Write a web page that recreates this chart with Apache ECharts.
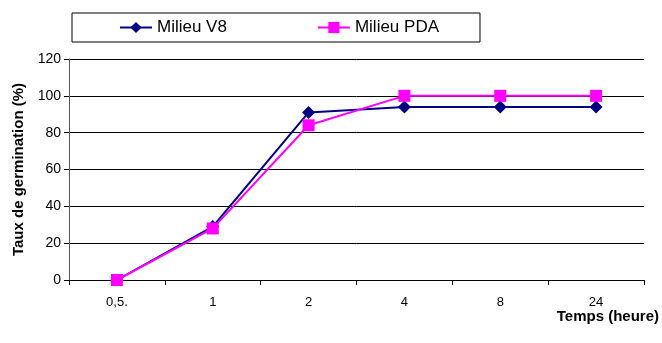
<!DOCTYPE html>
<html>
<head>
<meta charset="utf-8">
<script src="https://cdn.jsdelivr.net/npm/echarts@6/dist/echarts.min.js"></script>
<style>
  html, body { margin: 0; padding: 0; background: #fff; }
  #chart { width: 662px; height: 343px; }
</style>
</head>
<body>
<div id="chart"></div>
<script>
// Germination time points and rates for the two culture media
const temps = ['0,5.', '1', '2', '4', '8', '24'];
const milieuV8 = [0, 29, 91, 94, 94, 94];
const milieuPDA = [0, 28, 84, 100, 100, 100];

const chart = echarts.init(document.getElementById('chart'));
const font = 'Liberation Sans, Arial, sans-serif';

chart.setOption({
  animation: false,
  backgroundColor: '#ffffff',
  textStyle: { fontFamily: font },
  legend: {
    left: 72,
    top: 13,
    padding: [6, 41, 6, 47],
    borderColor: '#000',
    borderWidth: 1,
    itemWidth: 32,
    itemHeight: 14,
    itemGap: 90,
    textStyle: { fontSize: 17, color: '#000', fontFamily: font },
    data: ['Milieu V8', 'Milieu PDA']
  },
  grid: { left: 69, right: 17, top: 59, bottom: 63, containLabel: false },
  xAxis: {
    type: 'category',
    data: temps,
    boundaryGap: true,
    name: 'Temps (heure)',
    nameLocation: 'end',
    nameGap: 0,
    nameTextStyle: {
      fontSize: 15, fontWeight: 'bold', color: '#000',
      align: 'right', verticalAlign: 'top', padding: [29, -15, 0, 0]
    },
    axisLine: { lineStyle: { color: '#000', width: 1 } },
    axisTick: { show: true, length: 5, lineStyle: { color: '#000' } },
    axisLabel: { fontSize: 13, color: '#000', margin: 16 }
  },
  yAxis: {
    type: 'value',
    min: 0, max: 120, interval: 20,
    name: 'Taux de germination (%)',
    nameLocation: 'middle',
    nameGap: 43,
    nameTextStyle: { fontSize: 15, fontWeight: 'bold', color: '#000' },
    axisLine: { show: true, lineStyle: { color: '#555', width: 1 } },
    axisTick: { show: true, length: 5, lineStyle: { color: '#000' } },
    axisLabel: { fontSize: 14, color: '#000', margin: 8 },
    splitLine: { lineStyle: { color: '#000', width: 1 } }
  },
  series: [
    {
      name: 'Milieu V8',
      type: 'line',
      data: milieuV8,
      symbol: 'diamond',
      symbolSize: 13,
      color: '#000080',
      lineStyle: { width: 2, color: '#000080' },
      itemStyle: { color: '#000080' },
      z: 3
    },
    {
      name: 'Milieu PDA',
      type: 'line',
      data: milieuPDA,
      symbol: 'rect',
      symbolSize: 12,
      color: '#ff00ff',
      lineStyle: { width: 2, color: '#ff00ff' },
      itemStyle: { color: '#ff00ff' },
      z: 4
    }
  ]
});
</script>
</body>
</html>
